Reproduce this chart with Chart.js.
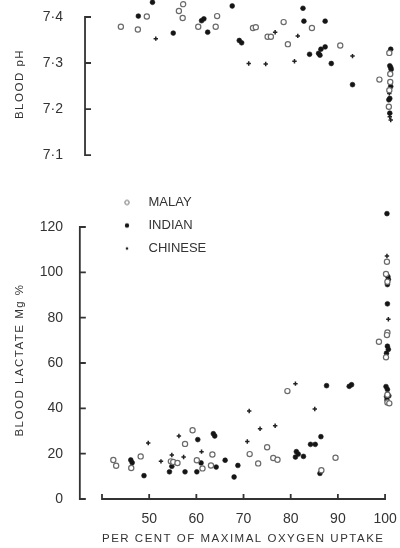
<!DOCTYPE html>
<html><head><meta charset="utf-8">
<script src="https://cdn.jsdelivr.net/npm/chart.js@4/dist/chart.umd.min.js"></script>
<style>
html,body{margin:0;padding:0;background:#fff;}
#wrap{position:relative;width:400px;height:548px;overflow:hidden;background:#fff;}
.box{position:absolute;left:0;}
</style></head><body>
<div id="wrap">
  <div class="box" style="top:0;width:400px;height:190px"><canvas id="top" width="400" height="190"></canvas></div>
  <div class="box" style="top:186px;width:400px;height:362px"><canvas id="bot" width="400" height="362"></canvas></div>
</div>
<script>
// ---------------- DATA ----------------
const seriesNames = ['MALAY', 'INDIAN', 'CHINESE'];
const xTicks = [50, 60, 70, 80, 90, 100];
const phTicks = [7.1, 7.2, 7.3, 7.4];
const lactateTicks = [0, 20, 40, 60, 80, 100, 120];

// [per cent of maximal O2 uptake, blood pH]
const malayPH = [[44.0,7.379],[47.6,7.373],[49.5,7.401],[56.3,7.413],[57.2,7.428],[57.1,7.398],[60.4,7.379],
  [64.4,7.402],[64.1,7.379],[72.0,7.376],[72.6,7.378],[75.1,7.357],[75.8,7.357],[78.5,7.389],[79.4,7.341],
  [84.5,7.376],[90.5,7.338],[98.8,7.264],[100.9,7.322],[101.1,7.276],[101.1,7.259],[100.9,7.241],[100.8,7.205]];
const indianPH = [[47.7,7.402],[50.7,7.432],[55.1,7.365],[61.1,7.392],[61.6,7.396],[62.4,7.367],[67.6,7.424],
  [69.1,7.349],[69.6,7.344],[82.6,7.419],[82.8,7.391],[84.0,7.319],[85.9,7.321],[86.2,7.317],[86.4,7.330],
  [87.3,7.335],[87.3,7.391],[88.6,7.299],[93.1,7.253],[101.2,7.330],[101.0,7.294],[101.2,7.290],[101.3,7.286],
  [101.2,7.249],[101.0,7.223],[100.8,7.220],[101.0,7.191]];
const chinesePH = [[51.4,7.353],[71.1,7.299],[74.7,7.298],[76.7,7.367],[80.8,7.304],[81.5,7.359],[93.1,7.315],
  [100.9,7.234],[101.0,7.183],[101.2,7.176]];

// [per cent of maximal O2 uptake, blood lactate mg %]
const malayLactate = [[42.4,17.2],[43.0,14.7],[46.2,13.7],[48.2,18.8],[54.6,16.6],[55.1,16.3],[56.0,15.9],
  [57.6,24.3],[59.2,30.3],[60.1,17.1],[61.3,13.5],[63.1,14.8],[63.4,19.6],[71.3,19.8],[73.1,15.7],[75.0,22.8],
  [76.3,18.1],[77.2,17.3],[79.3,47.6],[86.5,12.7],[89.5,18.2],[98.7,69.4],[100.4,104.7],[100.2,99.3],
  [100.5,95.9],[100.5,73.5],[100.4,72.3],[100.2,62.5],[100.5,46.0],[100.5,42.6],[100.9,42.2]];
const indianLactate = [[46.1,17.2],[46.4,16.0],[48.9,10.3],[54.8,14.4],[54.3,12.0],[57.6,12.0],[60.3,26.2],
  [61.0,15.9],[60.1,12.0],[63.6,28.8],[63.9,27.8],[64.2,14.1],[66.1,17.1],[68.8,14.8],[68.0,9.7],[81.2,20.9],
  [81.6,19.8],[81.0,18.5],[82.7,18.8],[84.2,24.1],[85.2,24.1],[86.4,27.5],[87.6,50.0],[86.2,11.3],[92.4,49.7],
  [92.9,50.4],[100.4,125.9],[100.6,98.1],[100.7,96.9],[100.5,94.6],[100.5,86.1],[100.5,67.4],[100.7,66.0],
  [100.3,64.3],[100.2,49.6],[100.5,48.3],[100.3,45.2],[100.8,45.5],[100.4,43.7]];
const chineseLactate = [[49.8,24.7],[52.5,16.6],[54.8,19.4],[56.3,27.8],[57.3,18.5],[61.1,20.9],[70.8,25.4],
  [71.2,38.8],[73.5,31.0],[76.7,32.3],[81.0,50.9],[85.1,39.7],[100.4,107.2],[100.7,79.3]];

// ---------------- STYLE ----------------
const FONT = "'Liberation Sans', Arial, sans-serif";
const INK = '#333';
Chart.defaults.font.family = FONT;
Chart.defaults.color = INK;

const markerStyle = {
  MALAY:   {pointStyle: 'circle', pointRadius: 2.6, backgroundColor: '#ffffff', borderColor: '#6a6a6a', borderWidth: 1.2},
  INDIAN:  {pointStyle: 'circle', pointRadius: 2.4, backgroundColor: '#151515', borderColor: '#151515', borderWidth: 0.6},
  CHINESE: {pointStyle: 'cross',  pointRadius: 2.2, backgroundColor: '#222', borderColor: '#222', borderWidth: 1.5}
};

function legendImage(name) {
  const c = document.createElement('canvas');
  c.width = 12; c.height = 12;
  const g = c.getContext('2d');
  g.beginPath();
  if (name === 'MALAY') { g.arc(6, 6, 2.2, 0, Math.PI * 2); g.fillStyle = '#fff'; g.fill(); g.lineWidth = 1; g.strokeStyle = '#6a6a6a'; g.stroke(); }
  else if (name === 'INDIAN') { g.arc(6, 6, 2.2, 0, Math.PI * 2); g.fillStyle = '#151515'; g.fill(); }
  else { g.arc(6, 6, 1.3, 0, Math.PI * 2); g.fillStyle = '#222'; g.fill(); }
  return c;
}

const toXY = arr => arr.map(([x, y]) => ({x, y}));
function makeDatasets(lists) {
  return seriesNames.map((name, i) => Object.assign({
    label: name, data: toXY(lists[i]), clip: false, pointHoverRadius: 0, xAxisID: 'x', yAxisID: 'y'
  }, markerStyle[name]));
}

// fixed axis box sizes, no automatic label padding
function fixWidth(w) {
  return s => { s.width = w; s.paddingTop = 0; s.paddingBottom = 0; s.paddingLeft = 0; s.paddingRight = 0; };
}
function fixHeight(h) {
  return s => { s.height = h; s.paddingTop = 0; s.paddingBottom = 0; s.paddingLeft = 0; s.paddingRight = 0; };
}

// axis lines drawn from the scales, plus letter spacing for axis titles
const axesPlugin = {
  id: 'axes',
  beforeDraw(chart) { chart.ctx.letterSpacing = '0px'; },
  afterDatasetsDraw(chart) { chart.ctx.letterSpacing = '1.5px'; },
  afterDraw(chart, args, o) {
    const ctx = chart.ctx, xs = chart.scales.x, ys = chart.scales.y;
    ctx.save();
    ctx.strokeStyle = INK; ctx.lineWidth = 1.8;
    const ax = xs.getPixelForValue(o.yAxisAt);
    const ya = ys.getPixelForValue(o.yTicks[0]);
    const yb = ys.getPixelForValue(o.yTicks[o.yTicks.length - 1]);
    ctx.beginPath();
    ctx.moveTo(ax, ya); ctx.lineTo(ax, yb);
    o.yTicks.forEach(t => { const p = ys.getPixelForValue(t); ctx.moveTo(ax - 0.9, p); ctx.lineTo(ax + 6, p); });
    if (o.xAxis) {
      const py = ys.getPixelForValue(0);
      const xa = xs.getPixelForValue(o.xFrom), xb = xs.getPixelForValue(xTicks[xTicks.length - 1]);
      ctx.moveTo(xa, py); ctx.lineTo(xb, py);
      [o.xFrom].concat(xTicks).forEach(t => { const p = xs.getPixelForValue(t); ctx.moveTo(p, py + 0.9); ctx.lineTo(p, py - 5); });
    }
    ctx.stroke();
    ctx.restore();
  }
};

const commonX = {type: 'linear', min: 40, max: 102};

// ---------------- TOP: BLOOD pH ----------------
new Chart(document.getElementById('top'), {
  type: 'scatter',
  data: {datasets: makeDatasets([malayPH, indianPH, chinesePH])},
  options: {
    responsive: false, animation: false, events: [],
    layout: {autoPadding: false, padding: {left: 0, right: 5.5, top: 0, bottom: 22}},
    plugins: {legend: {display: false}, tooltip: {enabled: false},
      axes: {yAxisAt: 36.4, yTicks: phTicks, xAxis: false}},
    scales: {
      x: Object.assign({}, commonX, {display: false, afterFit: fixHeight(0)}),
      y: {
        type: 'linear', min: 7.0718, max: 7.437,
        afterFit: fixWidth(102),
        afterBuildTicks: s => { s.ticks = phTicks.map(v => ({value: v})); },
        ticks: {padding: 39, font: {size: 14}, color: INK, callback: v => Number(v).toFixed(1).replace('.', '·')},
        grid: {display: false, drawTicks: false, z: 1},
        border: {display: false},
        title: {display: true, text: 'BLOOD pH', font: {size: 11.5}, color: INK, padding: {top: 13, bottom: 0}}
      }
    }
  },
  plugins: [axesPlugin]
});

// ---------------- BOTTOM: BLOOD LACTATE ----------------
new Chart(document.getElementById('bot'), {
  type: 'scatter',
  data: {datasets: makeDatasets([malayLactate, indianLactate, chineseLactate])},
  options: {
    responsive: false, animation: false, events: [],
    layout: {autoPadding: false, padding: {left: 0, right: 5.5, top: 0, bottom: 0}},
    plugins: {
      tooltip: {enabled: false},
      legend: {
        display: true, position: 'chartArea', align: 'start',
        labels: {
          usePointStyle: true, pointStyleWidth: 30, boxHeight: 6, padding: 10,
          font: {size: 13}, color: INK,
          generateLabels: chart => Chart.defaults.plugins.legend.labels.generateLabels(chart)
            .map((it, i) => Object.assign({}, it, {pointStyle: legendImage(seriesNames[i])}))
        }
      },
      axes: {yAxisAt: 35.3, yTicks: lactateTicks, xAxis: true, xFrom: 40}
    },
    scales: {
      x: Object.assign({}, commonX, {
        position: 'bottom',
        afterFit: fixHeight(49),
        afterBuildTicks: s => { s.ticks = xTicks.map(v => ({value: v})); },
        ticks: {padding: 12, font: {size: 14}, color: INK, maxRotation: 0, autoSkip: false},
        grid: {display: false, drawTicks: false, z: 1},
        border: {display: false},
        title: {display: true, align: 'start', text: 'PER CENT OF MAXIMAL OXYGEN UPTAKE',
          font: {size: 11.5}, color: INK, padding: {top: 0, bottom: 2}}
      }),
      y: {
        type: 'linear', position: 'left', stack: 'L', stackWeight: 278, weight: 0, min: 0, max: 122.65,
        afterFit: fixWidth(102),
        afterBuildTicks: s => { s.ticks = lactateTicks.map(v => ({value: v})); },
        ticks: {padding: 39, font: {size: 14}, color: INK},
        grid: {display: false, drawTicks: false, z: 1},
        border: {display: false},
        title: {display: true, text: 'BLOOD LACTATE Mg %', font: {size: 11.5}, color: INK, padding: {top: 13, bottom: 0}}
      },
      yGap: {type: 'linear', position: 'left', stack: 'L', stackWeight: 35, weight: 10, display: false,
        min: 0, max: 1, afterFit: fixWidth(102)}
    }
  },
  plugins: [axesPlugin]
});
</script>
</body></html>
